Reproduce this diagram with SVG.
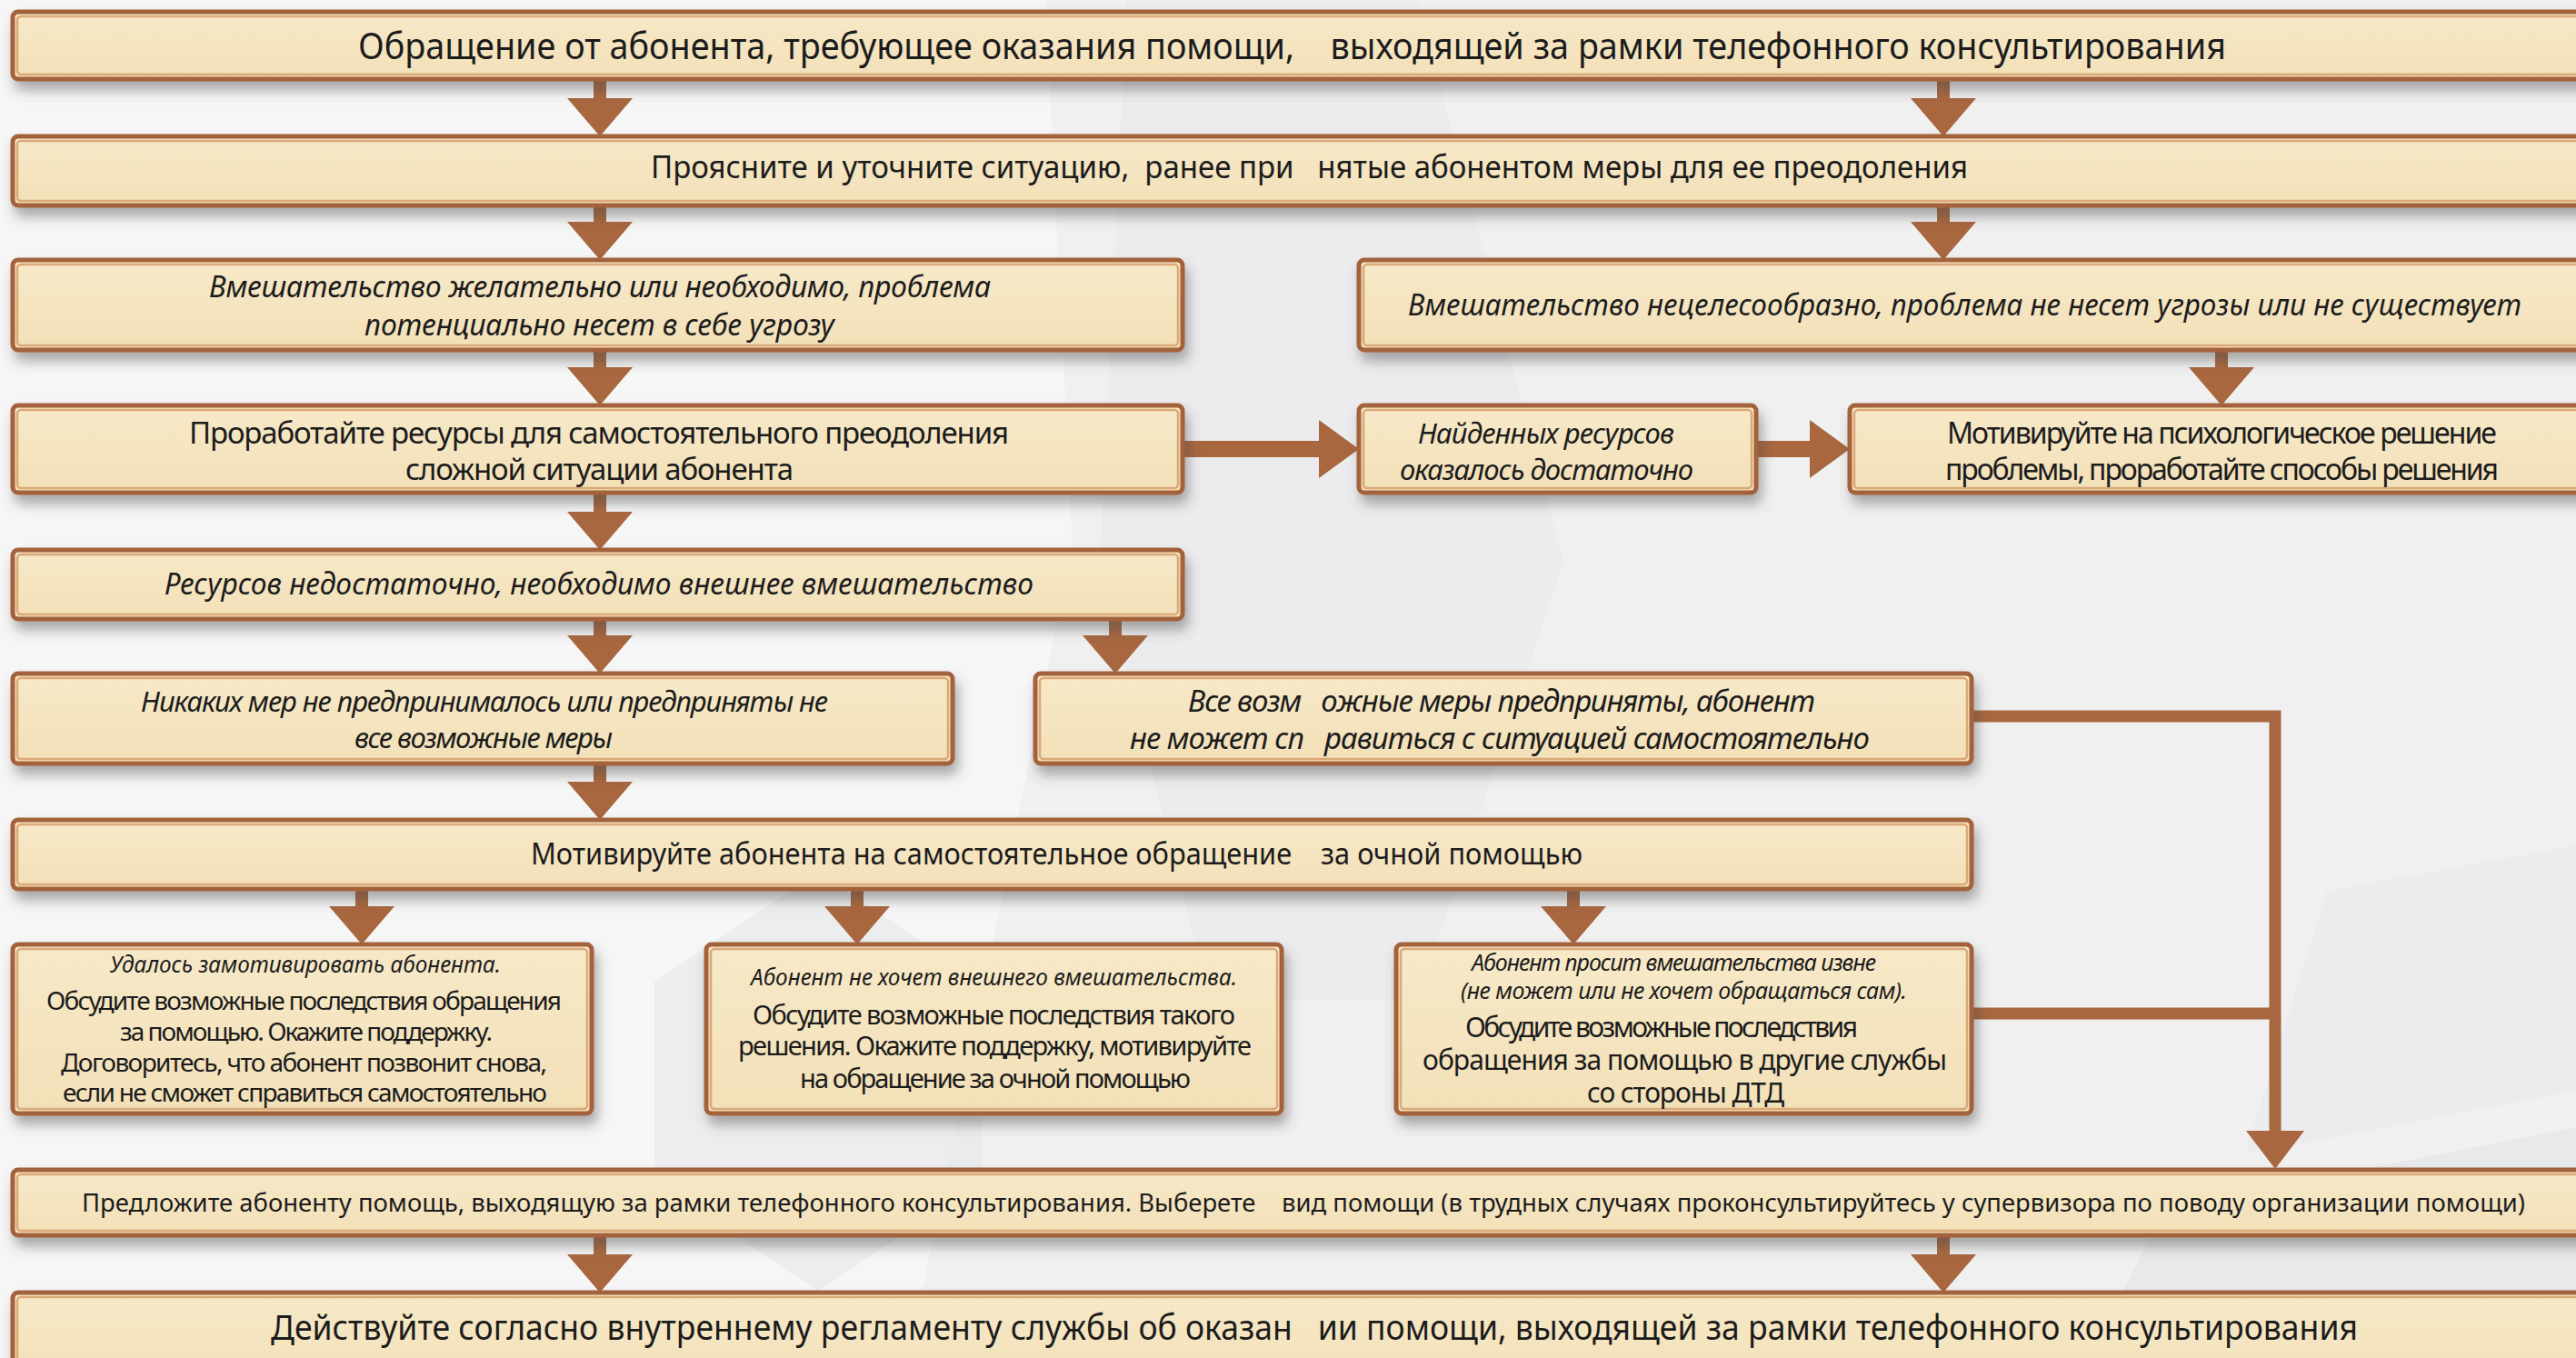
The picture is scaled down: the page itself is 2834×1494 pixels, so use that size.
<svg xmlns="http://www.w3.org/2000/svg" width="2834" height="1494" viewBox="0 0 2834 1494">
<defs>
<style>
.bx{fill:url(#fg);stroke:#a3623b;stroke-width:5;filter:url(#sh)}
.bi{fill:none;stroke:#dba877;stroke-width:2.5}
.t{font-family:"Noto Sans","Open Sans","DejaVu Sans",sans-serif;fill:#1c1c1c}
.i{font-style:italic}
.c{fill:none;stroke:#a8673f;stroke-linecap:butt}
.v{stroke-width:14}
.h{stroke-width:18}
.r{stroke-width:13}
</style>
<linearGradient id="fg" x1="0" y1="0" x2="0" y2="1">
<stop offset="0" stop-color="#f7e9c8"/>
<stop offset="1" stop-color="#f2e0b8"/>
</linearGradient>
<filter id="sh" x="-5%" y="-20%" width="110%" height="160%">
<feDropShadow dx="4" dy="10" stdDeviation="7" flood-color="#4a4a4a" flood-opacity="0.45"/>
</filter>
<marker id="av" markerUnits="userSpaceOnUse" viewBox="0 -36 42 72" refX="1" refY="0" markerWidth="42" markerHeight="72" orient="auto">
<path d="M0,-36 L42,0 L0,36 Z" fill="#a8673f"/>
</marker>
<marker id="ah" markerUnits="userSpaceOnUse" viewBox="0 -32 44 64" refX="1" refY="0" markerWidth="44" markerHeight="64" orient="auto">
<path d="M0,-32 L44,0 L0,32 Z" fill="#a8673f"/>
</marker>
<marker id="ar" markerUnits="userSpaceOnUse" viewBox="0 -32 42 64" refX="1" refY="0" markerWidth="42" markerHeight="64" orient="auto">
<path d="M0,-32 L42,0 L0,32 Z" fill="#a8673f"/>
</marker>
</defs>

<g id="background">
<rect x="0" y="0" width="2834" height="1494" fill="#f0f0f1"/>
<polygon points="0,0 1150,0 1180,600 1000,1494 0,1494" fill="#f6f6f7"/>
<polygon points="1240,0 1560,0 1720,620 1560,1100 1330,1100 1210,620" fill="#e9eaec" opacity="0.7"/>
<polygon points="720,1080 900,960 1080,1080 1080,1300 900,1420 720,1300" fill="#e6e7e9" opacity="0.6"/>
<polygon points="2380,1330 2834,1240 2834,1494 2300,1494" fill="#e4e5e7" opacity="0.7"/>
<polygon points="2560,980 2834,930 2834,1200 2470,1270" fill="#e8e9eb" opacity="0.6"/>
</g>

<g id="connectors">
<line class="c v" x1="660" y1="87" x2="660" y2="109" marker-end="url(#av)"/>
<line class="c v" x1="2138" y1="87" x2="2138" y2="109" marker-end="url(#av)"/>
<line class="c v" x1="660" y1="226" x2="660" y2="245" marker-end="url(#av)"/>
<line class="c v" x1="2138" y1="226" x2="2138" y2="245" marker-end="url(#av)"/>
<line class="c v" x1="660" y1="385" x2="660" y2="405" marker-end="url(#av)"/>
<line class="c v" x1="2444" y1="385" x2="2444" y2="405" marker-end="url(#av)"/>
<line class="c h" x1="1301" y1="494" x2="1452" y2="494" marker-end="url(#ah)"/>
<line class="c h" x1="1932" y1="494" x2="1992" y2="494" marker-end="url(#ah)"/>
<line class="c v" x1="660" y1="542" x2="660" y2="564" marker-end="url(#av)"/>
<line class="c v" x1="660" y1="681" x2="660" y2="700" marker-end="url(#av)"/>
<line class="c v" x1="1227" y1="681" x2="1227" y2="700" marker-end="url(#av)"/>
<line class="c v" x1="660" y1="840" x2="660" y2="861" marker-end="url(#av)"/>
<line class="c v" x1="398" y1="978" x2="398" y2="998" marker-end="url(#av)"/>
<line class="c v" x1="943" y1="978" x2="943" y2="998" marker-end="url(#av)"/>
<line class="c v" x1="1731" y1="978" x2="1731" y2="998" marker-end="url(#av)"/>
<polyline class="c r" points="2169,788 2503,788 2503,1245" marker-end="url(#ar)"/>
<line class="c r" x1="2169" y1="1115" x2="2503" y2="1115"/>
<line class="c v" x1="660" y1="1359" x2="660" y2="1381" marker-end="url(#av)"/>
<line class="c v" x1="2138" y1="1359" x2="2138" y2="1381" marker-end="url(#av)"/>
</g>

<g id="n1">
<rect class="bx" x="14" y="13" width="2840" height="74" rx="6"/>
<rect class="bi" x="19" y="18" width="2830" height="64" rx="4"/>
<text class="t" x="394" y="65" font-size="40" textLength="2055" lengthAdjust="spacingAndGlyphs" xml:space="preserve">Обращение от абонента, требующее оказания помощи,    выходящей за рамки телефонного консультирования</text>
</g>

<g id="n2">
<rect class="bx" x="14" y="150" width="2840" height="76" rx="6"/>
<rect class="bi" x="19" y="155" width="2830" height="66" rx="4"/>
<text class="t" x="716" y="196" font-size="34" textLength="1449" lengthAdjust="spacingAndGlyphs" xml:space="preserve">Проясните и уточните ситуацию,  ранее при   нятые абонентом меры для ее преодоления</text>
</g>

<g id="n3">
<rect class="bx" x="14" y="286" width="1287" height="99" rx="6"/>
<rect class="bi" x="19" y="291" width="1277" height="89" rx="4"/>
<text class="t i" font-size="32" lengthAdjust="spacingAndGlyphs">
<tspan x="230" y="327" textLength="860">Вмешательство желательно или необходимо, проблема</tspan>
<tspan x="401" y="369" textLength="517">потенциально несет в себе угрозу</tspan>
</text>
</g>

<g id="n4">
<rect class="bx" x="1495" y="286" width="1360" height="99" rx="6"/>
<rect class="bi" x="1500" y="291" width="1350" height="89" rx="4"/>
<text class="t i" x="1549" y="347" font-size="32" textLength="1225" lengthAdjust="spacingAndGlyphs">Вмешательство нецелесообразно, проблема не несет угрозы или не существует</text>
</g>

<g id="n5">
<rect class="bx" x="14" y="446" width="1287" height="96" rx="6"/>
<rect class="bi" x="19" y="451" width="1277" height="86" rx="4"/>
<text class="t" font-size="33" lengthAdjust="spacingAndGlyphs">
<tspan x="208" y="488" textLength="902">Проработайте ресурсы для самостоятельного преодоления</tspan>
<tspan x="446" y="528" textLength="427">сложной ситуации абонента</tspan>
</text>
</g>

<g id="n6">
<rect class="bx" x="1495" y="446" width="437" height="96" rx="6"/>
<rect class="bi" x="1500" y="451" width="427" height="86" rx="4"/>
<text class="t i" font-size="31" lengthAdjust="spacingAndGlyphs">
<tspan x="1560" y="488" textLength="282">Найденных ресурсов</tspan>
<tspan x="1540" y="528" textLength="323">оказалось достаточно</tspan>
</text>
</g>

<g id="n7">
<rect class="bx" x="2035" y="446" width="820" height="96" rx="6"/>
<rect class="bi" x="2040" y="451" width="810" height="86" rx="4"/>
<text class="t" font-size="32" lengthAdjust="spacingAndGlyphs">
<tspan x="2142" y="488" textLength="605">Мотивируйте на психологическое решение</tspan>
<tspan x="2140" y="528" textLength="609">проблемы, проработайте способы решения</tspan>
</text>
</g>

<g id="n8">
<rect class="bx" x="14" y="605" width="1287" height="76" rx="6"/>
<rect class="bi" x="19" y="610" width="1277" height="66" rx="4"/>
<text class="t i" x="181" y="654" font-size="33" textLength="956" lengthAdjust="spacingAndGlyphs">Ресурсов недостаточно, необходимо внешнее вмешательство</text>
</g>

<g id="n9">
<rect class="bx" x="14" y="741" width="1034" height="99" rx="6"/>
<rect class="bi" x="19" y="746" width="1024" height="89" rx="4"/>
<text class="t i" font-size="31" lengthAdjust="spacingAndGlyphs">
<tspan x="155" y="783" textLength="756">Никаких мер не предпринималось или предприняты не</tspan>
<tspan x="390" y="823" textLength="284">все возможные меры</tspan>
</text>
</g>

<g id="n10">
<rect class="bx" x="1139" y="741" width="1030" height="99" rx="6"/>
<rect class="bi" x="1144" y="746" width="1020" height="89" rx="4"/>
<text class="t i" font-size="33" lengthAdjust="spacingAndGlyphs" xml:space="preserve"><tspan x="1307" y="783" textLength="690">Все возм   ожные меры предприняты, абонент</tspan><tspan x="1243" y="824" textLength="814">не может сп   равиться с ситуацией самостоятельно</tspan></text>
</g>

<g id="n11">
<rect class="bx" x="14" y="902" width="2155" height="76" rx="6"/>
<rect class="bi" x="19" y="907" width="2145" height="66" rx="4"/>
<text class="t" x="584" y="951" font-size="33" textLength="1157" lengthAdjust="spacingAndGlyphs" xml:space="preserve">Мотивируйте абонента на самостоятельное обращение    за очной помощью</text>
</g>

<g id="n12">
<rect class="bx" x="14" y="1039" width="637" height="186" rx="6"/>
<rect class="bi" x="19" y="1044" width="627" height="176" rx="4"/>
<text class="t i" x="121" y="1070" font-size="25" textLength="430" lengthAdjust="spacingAndGlyphs">Удалось замотивировать абонента.</text>
<text class="t" font-size="28" lengthAdjust="spacingAndGlyphs">
<tspan x="51" y="1111" textLength="567">Обсудите возможные последствия обращения</tspan>
<tspan x="132" y="1145" textLength="410">за помощью. Окажите поддержку.</tspan>
<tspan x="67" y="1179" textLength="535">Договоритесь, что абонент позвонит снова,</tspan>
<tspan x="69" y="1212" textLength="533">если не сможет справиться самостоятельно</tspan>
</text>
</g>

<g id="n13">
<rect class="bx" x="777" y="1039" width="633" height="186" rx="6"/>
<rect class="bi" x="782" y="1044" width="623" height="176" rx="4"/>
<text class="t i" x="826" y="1084" font-size="25" textLength="535" lengthAdjust="spacingAndGlyphs">Абонент не хочет внешнего вмешательства.</text>
<text class="t" font-size="29" lengthAdjust="spacingAndGlyphs">
<tspan x="828" y="1127" textLength="531">Обсудите возможные последствия такого</tspan>
<tspan x="812" y="1161" textLength="565">решения. Окажите поддержку, мотивируйте</tspan>
<tspan x="880" y="1197" textLength="430">на обращение за очной помощью</tspan>
</text>
</g>

<g id="n14">
<rect class="bx" x="1536" y="1039" width="633" height="186" rx="6"/>
<rect class="bi" x="1541" y="1044" width="623" height="176" rx="4"/>
<text class="t i" font-size="25" lengthAdjust="spacingAndGlyphs">
<tspan x="1619" y="1068" textLength="445">Абонент просит вмешательства извне</tspan>
<tspan x="1607" y="1099" textLength="491">(не может или не хочет обращаться сам).</tspan>
</text>
<text class="t" font-size="30" lengthAdjust="spacingAndGlyphs">
<tspan x="1612" y="1141" textLength="432">Обсудите возможные последствия</tspan>
<tspan x="1565" y="1177" textLength="577">обращения за помощью в другие службы</tspan>
<tspan x="1746" y="1213" textLength="217">со стороны ДТД</tspan>
</text>
</g>

<g id="n15">
<rect class="bx" x="14" y="1287" width="2840" height="72" rx="6"/>
<rect class="bi" x="19" y="1292" width="2830" height="62" rx="4"/>
<text class="t" x="90" y="1333" font-size="27" textLength="2688" lengthAdjust="spacingAndGlyphs" xml:space="preserve">Предложите абоненту помощь, выходящую за рамки телефонного консультирования. Выберете    вид помощи (в трудных случаях проконсультируйтесь у супервизора по поводу организации помощи)</text>
</g>

<g id="n16">
<rect class="bx" x="14" y="1422" width="2840" height="100" rx="6"/>
<rect class="bi" x="19" y="1427" width="2830" height="90" rx="4"/>
<text class="t" x="298" y="1474" font-size="39" textLength="2296" lengthAdjust="spacingAndGlyphs" xml:space="preserve">Действуйте согласно внутреннему регламенту службы об оказан   ии помощи, выходящей за рамки телефонного консультирования</text>
</g>
</svg>
